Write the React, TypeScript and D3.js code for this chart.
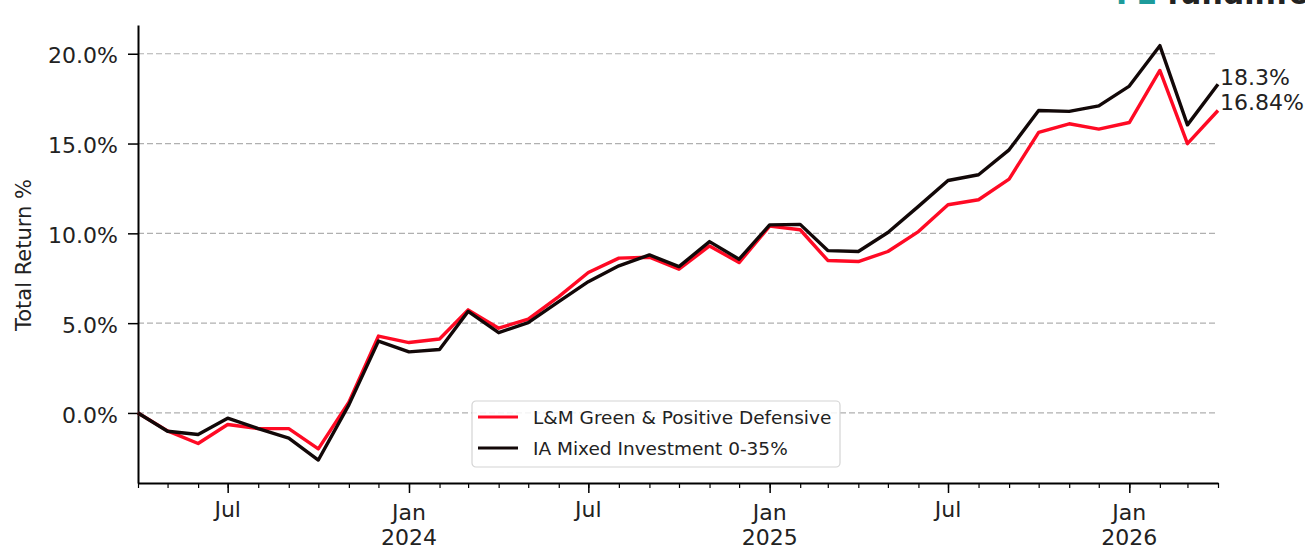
import { useEffect, useRef } from 'react';
import * as d3 from 'd3';

// monthly points, first of month
const months = [
  '2023-04', '2023-05', '2023-06', '2023-07', '2023-08', '2023-09', '2023-10', '2023-11', '2023-12',
  '2024-01', '2024-02', '2024-03', '2024-04', '2024-05', '2024-06', '2024-07', '2024-08', '2024-09', '2024-10', '2024-11', '2024-12',
  '2025-01', '2025-02', '2025-03', '2025-04', '2025-05', '2025-06', '2025-07', '2025-08', '2025-09', '2025-10', '2025-11', '2025-12',
  '2026-01', '2026-02', '2026-03', '2026-04',
];

const fundName = 'L&M Green & Positive Defensive';
const fundValues = [
  0, -1.0, -1.7, -0.64, -0.87, -0.87, -2.0, 0.6, 4.28,
  3.92, 4.12, 5.74, 4.72, 5.22, 6.48, 7.82, 8.62, 8.67, 8.0, 9.3, 8.37,
  10.4, 10.2, 8.49, 8.43, 8.99, 10.1, 11.59, 11.87, 13.02, 15.62, 16.1, 15.8,
  16.17, 19.07, 14.99, 16.84,
];

const sectorName = 'IA Mixed Investment 0-35%';
const sectorValues = [
  0, -1.02, -1.2, -0.29, -0.87, -1.4, -2.62, 0.45, 4.0,
  3.4, 3.53, 5.65, 4.47, 5.03, 6.2, 7.31, 8.19, 8.8, 8.15, 9.54, 8.56,
  10.47, 10.5, 9.04, 8.99, 10.05, 11.5, 12.94, 13.26, 14.65, 16.84, 16.79, 17.1,
  18.2, 20.45, 16.04, 18.3,
];

const yTicks = [0, 5, 10, 15, 20];
const endLabels = ['18.3%', '16.84%'];

const FONT = '"DejaVu Sans", sans-serif';
const RED = '#ff0a24';
const BLACK = '#120808';

export default function App() {
  const svgRef = useRef<SVGSVGElement>(null);

  useEffect(() => {
    if (!svgRef.current) return;
    const width = 1305;
    const height = 545;
    const left = 138;
    const right = 1218;
    const top = 25;
    const bottom = 483;

    const svg = d3.select(svgRef.current).attr('width', width).attr('height', height);
    svg.selectAll('*').remove();

    const parse = d3.timeParse('%Y-%m');
    const dates = months.map((m) => parse(m) as Date);

    const x = d3.scaleTime().domain([dates[0], dates[dates.length - 1]]).range([left, right]);
    const y = d3.scaleLinear().domain([-3.9, 21.6]).range([bottom, top]);

    svg.append('rect').attr('width', width).attr('height', height).attr('fill', '#ffffff');

    // logo, cut at the top edge like the source image
    const logo = svg.append('text').attr('x', 1116).attr('y', 4).style('font-family', FONT).style('font-size', '30px').style('font-weight', '700');
    logo.append('tspan').attr('fill', '#1d9b9b').text('FE');
    logo.append('tspan').attr('fill', '#222').attr('dx', 10).text('fundinfo');

    // grid
    svg
      .append('g')
      .selectAll('line')
      .data(yTicks)
      .enter()
      .append('line')
      .attr('x1', left)
      .attr('x2', right)
      .attr('y1', (d) => y(d))
      .attr('y2', (d) => y(d))
      .attr('stroke', '#b0b0b0')
      .attr('stroke-width', 1.2)
      .attr('stroke-dasharray', '6,3');

    // y axis
    const yAxis = svg
      .append('g')
      .attr('transform', `translate(${left},0)`)
      .call(
        d3
          .axisLeft(y)
          .tickValues(yTicks)
          .tickSize(10)
          .tickSizeOuter(0)
          .tickPadding(10)
          .tickFormat((d) => `${(+d).toFixed(1)}%`)
      );
    yAxis.select('.domain').attr('stroke', '#000').attr('stroke-width', 2);
    yAxis.selectAll('.tick line').attr('stroke', '#000').attr('stroke-width', 1.5);
    yAxis
      .selectAll('.tick text')
      .attr('dy', '0.42em')
      .style('font-family', FONT)
      .style('font-size', '22px')
      .style('fill', '#222');

    // x axis: minor monthly ticks
    const xMinor = svg
      .append('g')
      .attr('transform', `translate(0,${bottom})`)
      .call(d3.axisBottom(x).ticks(d3.timeMonth.every(1)).tickSize(5).tickSizeOuter(0).tickFormat(() => ''));
    xMinor.select('.domain').attr('stroke', '#000').attr('stroke-width', 2);
    xMinor.selectAll('.tick line').attr('stroke', '#000').attr('stroke-width', 1.2);

    // x axis: major ticks Jan / Jul
    const majors = dates.filter((d) => d.getMonth() === 0 || d.getMonth() === 6);
    const xMajor = svg
      .append('g')
      .attr('transform', `translate(0,${bottom})`)
      .call(d3.axisBottom(x).tickValues(majors).tickSize(10).tickSizeOuter(0).tickFormat(() => ''));
    xMajor.select('.domain').remove();
    xMajor.selectAll('.tick line').attr('stroke', '#000').attr('stroke-width', 1.5);

    const labels = svg
      .append('g')
      .selectAll('text')
      .data(majors)
      .enter()
      .append('text')
      .attr('x', (d) => x(d))
      .attr('y', (d) => (d.getMonth() === 0 ? bottom + 37 : bottom + 34))
      .attr('text-anchor', 'middle')
      .style('font-family', FONT)
      .style('font-size', '22px')
      .style('fill', '#222');
    labels.append('tspan').text((d) => d3.timeFormat('%b')(d));
    labels
      .filter((d) => d.getMonth() === 0)
      .append('tspan')
      .attr('x', (d) => x(d))
      .attr('dy', 25)
      .text((d) => d3.timeFormat('%Y')(d));

    // y label
    svg
      .append('text')
      .attr('transform', `translate(31,255) rotate(-90)`)
      .attr('text-anchor', 'middle')
      .style('font-family', FONT)
      .style('font-size', '21px')
      .style('fill', '#222')
      .text('Total Return %');

    // lines
    const line = d3
      .line<number>()
      .x((_, i) => x(dates[i]))
      .y((d) => y(d));

    svg.append('path').datum(fundValues).attr('d', line).attr('fill', 'none').attr('stroke', RED).attr('stroke-width', 3.4).attr('stroke-linejoin', 'round');
    svg.append('path').datum(sectorValues).attr('d', line).attr('fill', 'none').attr('stroke', BLACK).attr('stroke-width', 3.4).attr('stroke-linejoin', 'round');

    // end labels
    svg
      .append('g')
      .selectAll('text')
      .data(endLabels)
      .enter()
      .append('text')
      .attr('x', right + 2)
      .attr('y', (_, i) => 85 + i * 25)
      .style('font-family', FONT)
      .style('font-size', '22px')
      .style('fill', '#222')
      .text((d) => d);

    // legend
    const lg = svg.append('g').attr('transform', 'translate(472,401)');
    lg.append('rect')
      .attr('width', 368)
      .attr('height', 66)
      .attr('rx', 4)
      .attr('fill', '#fff')
      .attr('fill-opacity', 0.85)
      .attr('stroke', '#d4d4d4')
      .attr('stroke-width', 1.2);
    const items = [
      { name: fundName, color: RED },
      { name: sectorName, color: BLACK },
    ];
    items.forEach((it, i) => {
      const cy = 16 + i * 31;
      lg.append('line').attr('x1', 6).attr('x2', 46).attr('y1', cy).attr('y2', cy).attr('stroke', it.color).attr('stroke-width', 3.2);
      lg.append('text')
        .attr('x', 61)
        .attr('y', cy + 7)
        .style('font-family', FONT)
        .style('font-size', '18.5px')
        .style('fill', '#222')
        .text(it.name);
    });
  }, []);

  return (
    <div style={{ position: 'absolute', left: 0, top: 0 }}>
      <svg ref={svgRef} style={{ display: 'block' }} />
    </div>
  );
}
